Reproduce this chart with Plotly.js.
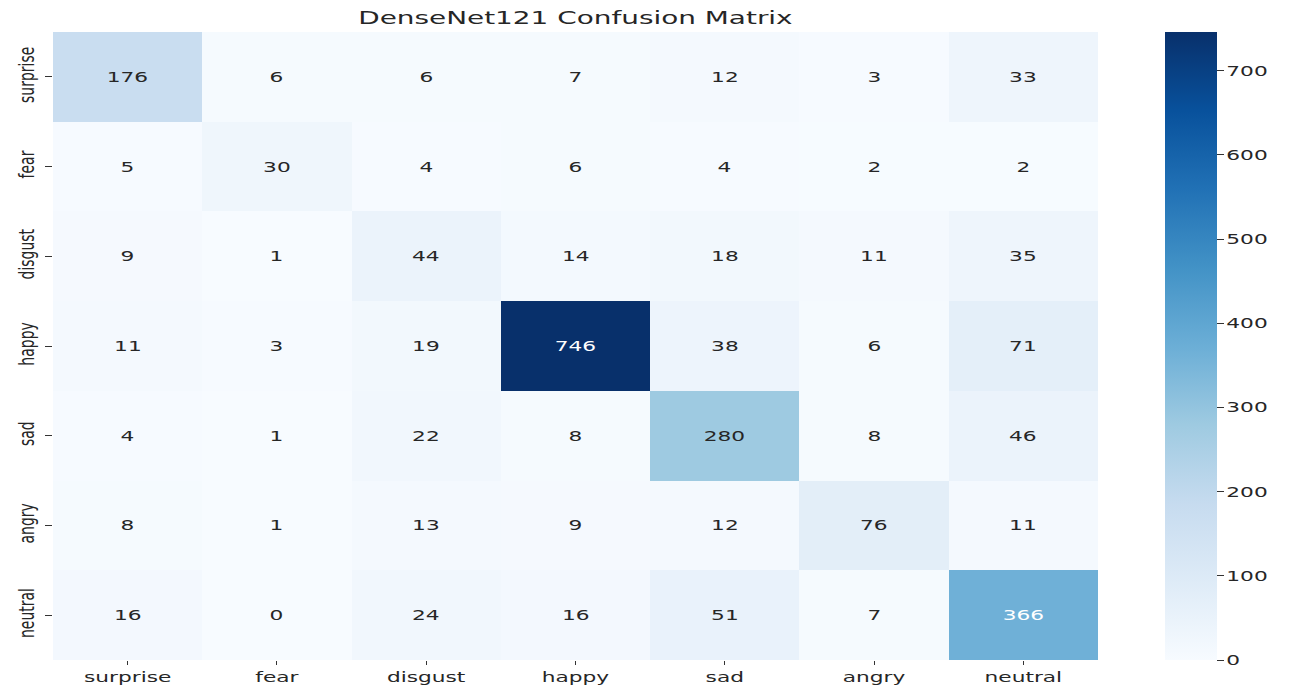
<!DOCTYPE html>
<html><head><meta charset="utf-8">
<script src="https://cdn.plot.ly/plotly-3.0.1.min.js"></script>
<style>html,body{margin:0;padding:0;background:#fff}</style>
</head><body>
<div id="chart" style="width:1289px;height:690px"></div>
<script>
const labels = ["surprise","fear","disgust","happy","sad","angry","neutral"];
const row_surprise = [176, 6, 6, 7, 12, 3, 33];
const row_fear     = [5, 30, 4, 6, 4, 2, 2];
const row_disgust  = [9, 1, 44, 14, 18, 11, 35];
const row_happy    = [11, 3, 19, 746, 38, 6, 71];
const row_sad      = [4, 1, 22, 8, 280, 8, 46];
const row_angry    = [8, 1, 13, 9, 12, 76, 11];
const row_neutral  = [16, 0, 24, 16, 51, 7, 366];
const z = [row_surprise,row_fear,row_disgust,row_happy,row_sad,row_angry,row_neutral];
const zmax = 746;
const cbTicks = [0,100,200,300,400,500,600,700];

const blues = [[0,'#f7fbff'],[0.125,'#deebf7'],[0.25,'#c6dbef'],[0.375,'#9ecae1'],[0.5,'#6baed6'],[0.625,'#4292c6'],[0.75,'#2171b5'],[0.875,'#08519c'],[1,'#08306b']];

const annotations = [];
z.forEach((row,i)=>row.forEach((v,j)=>{
  annotations.push({x:labels[j], y:labels[i], text:String(v), showarrow:false,
    font:{family:'DejaVu Sans', size:14, color: v/zmax > 0.45 ? '#ffffff' : '#262626'}});
}));

const trace = {type:'heatmap', x:labels, y:labels, z:z, zmin:0, zmax:zmax, colorscale:blues,
  xgap:0, ygap:0, hoverinfo:'z',
  colorbar:{x:1.064, xanchor:'left', y:0.5, yanchor:'middle', len:1, lenmode:'fraction', thickness:52,
    thicknessmode:'pixels', ypad:0, xpad:0, outlinewidth:0, ticks:'outside', ticklen:7, tickcolor:'#333',
    tickvals:cbTicks, tickfont:{family:'DejaVu Sans', size:14, color:'#262626'}}};

const layout = {
  width:1289, height:690,
  margin:{l:53, r:191, t:32, b:30},
  paper_bgcolor:'#fff', plot_bgcolor:'#fff',
  title:{text:'DenseNet121 Confusion Matrix', x:0.5, xref:'paper', y:0.975, yanchor:'middle',
    font:{family:'DejaVu Sans', size:18, color:'#262626'}},
  xaxis:{type:'category', categoryarray:labels, ticks:'outside', ticklen:4, tickcolor:'#333',
    showgrid:false, zeroline:false, showline:false,
    tickfont:{family:'DejaVu Sans', size:14, color:'#262626'}},
  yaxis:{type:'category', categoryarray:labels, autorange:'reversed', ticks:'outside', ticklen:7, tickcolor:'#333',
    showgrid:false, zeroline:false, showline:false, tickangle:-90, ticklabelstandoff:8,
    tickfont:{family:'DejaVu Sans', size:14, color:'#262626'}},
  annotations:annotations
};

// the reference picture is stretched horizontally; stretch the text the same way
function stretchText(s){
  document.querySelectorAll('#chart svg text').forEach(t=>{
    const r = t.getBoundingClientRect();
    if(!r.width) return;
    const svgRect = t.ownerSVGElement.getBoundingClientRect();
    const anchor = t.getAttribute('text-anchor') || 'start';
    const old = t.getAttribute('transform') || '';
    let cx;
    if(old.indexOf('rotate(-90') >= 0 || anchor === 'middle') cx = r.left + r.width/2;
    else if(anchor === 'end') cx = r.right;
    else cx = r.left;
    cx -= svgRect.left;
    const pm = t.parentNode.getCTM();
    const px = (cx - pm.e) / pm.a;
    t.setAttribute('transform', 'translate(' + px + ',0) scale(' + s + ',1) translate(' + (-px) + ',0) ' + old);
  });
}

Plotly.newPlot('chart',[trace],layout,{displayModeBar:false}).then(()=>stretchText(1.55));
</script>
</body></html>
